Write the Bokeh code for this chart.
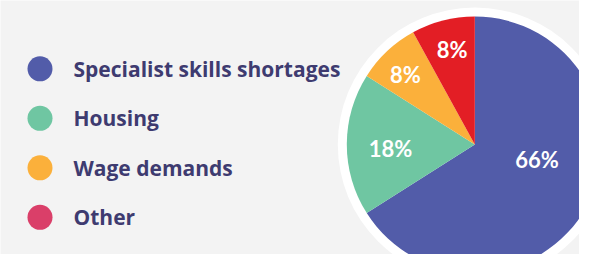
import math
from bokeh.plotting import figure
from bokeh.models import Range1d, ColumnDataSource
from bokeh.core.properties import value
from bokeh.embed import file_html
from bokeh.resources import INLINE

# ---- data ----
categories = ["Specialist skills shortages", "Housing", "Wage demands", "Other"]
shares = [66, 18, 8, 8]
pct_labels = ["66%", "18%", "8%", "8%"]
pie_colors = ["#525ca9", "#6fc6a2", "#fbb03b", "#e31e25"]
legend_colors = ["#525ca9", "#6fc6a2", "#fbb03b", "#da3f69"]

BG = "#f3f3f3"
TEXT = "#3e3b70"

W, H = 579, 254
p = figure(width=W, height=H, output_backend="svg", toolbar_location=None,
           x_range=Range1d(0, W), y_range=Range1d(270 - H, 270),
           min_border=0, background_fill_color=BG, border_fill_color=BG,
           outline_line_color=None)
p.axis.visible = False
p.xgrid.visible = False
p.ygrid.visible = False

cx, cy = 474.3, 126.0
R = 128.0

# white ring
p.circle(x=[cx], y=[cy], radius=137, fill_color="white", line_color=None)

# wedges: start at top, go clockwise
total = float(sum(shares))
starts, ends, mids = [], [], []
cum = 0.0
for s in shares:
    a0 = math.pi / 2 - 2 * math.pi * (cum + s) / total
    a1 = math.pi / 2 - 2 * math.pi * cum / total
    starts.append(a0)
    ends.append(a1)
    mids.append((a0 + a1) / 2)
    cum += s

src = ColumnDataSource(dict(start=starts, end=ends, color=pie_colors))
p.wedge(x=cx, y=cy, radius=R, start_angle="start", end_angle="end",
        fill_color="color", line_color=None, source=src)

# percent labels
label_r = [0.50, 0.66, 0.77, 0.76]
label_shift = [15.0, 2.5, 1.5, -1.0]
lx, ly = [], []
for m, rf, sh in zip(mids, label_r, label_shift):
    a = m + math.radians(sh)
    lx.append(cx + R * rf * math.cos(a))
    ly.append(cy + R * rf * math.sin(a))
p.text(x=lx, y=ly, text=pct_labels, text_color="white",
       text_font=value("Lato"), text_font_style="bold", text_font_size="22px",
       text_align="center", text_baseline="middle")

# legend
leg_y = [201.7 - 49.5 * i for i in range(len(categories))]
p.scatter(x=[39.5] * len(categories), y=leg_y, size=25, marker="circle",
          fill_color=legend_colors, line_color=None)
p.text(x=[73] * len(categories), y=leg_y, text=categories, text_color=TEXT,
       text_font=value("Open Sans"), text_font_style="bold", text_font_size="21px",
       text_align="left", text_baseline="middle")

open("out.html", "w").write(file_html(p, INLINE))
